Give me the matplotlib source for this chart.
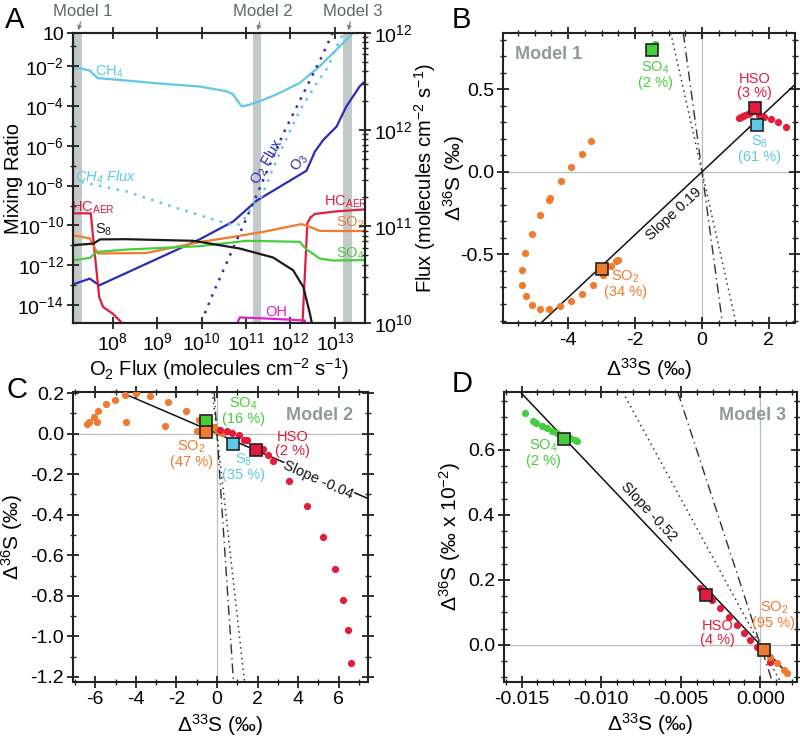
import numpy as np
import matplotlib.pyplot as plt
from matplotlib.ticker import FixedLocator, MultipleLocator, NullLocator, FormatStrFormatter, LogLocator, NullFormatter

plt.rcParams['font.family'] = ['Liberation Sans', 'DejaVu Sans']
plt.rcParams['mathtext.fontset'] = 'custom'
plt.rcParams['mathtext.rm'] = 'Liberation Sans'
plt.rcParams['mathtext.it'] = 'Liberation Sans:italic'
plt.rcParams['mathtext.bf'] = 'Liberation Sans:bold'
plt.rcParams['mathtext.default'] = 'regular'
plt.rcParams['axes.unicode_minus'] = False

# ---- panel A: mixing ratios vs O2 flux (values as log10) ----
ch4_lx = [7.10, 7.30, 7.48, 7.58, 7.66, 8.0, 8.31, 9.0, 9.96, 10.56, 10.70, 10.79, 10.90, 11.05, 11.31, 11.7, 12.21, 12.66, 13.04, 13.41, 13.6]
ch4_ly = [-2.08, -2.12, -2.22, -2.45, -2.60, -2.66, -2.72, -2.86, -3.02, -3.26, -3.40, -3.68, -4.02, -3.95, -3.76, -3.40, -2.84, -2.00, -1.16, -0.33, 0.0]

o3_lx = [7.10, 7.48, 7.69, 9.96, 10.71, 11.24, 12.36, 12.45, 12.55, 12.74, 13.04, 13.26, 13.56, 13.71]
o3_ly = [-12.96, -12.67, -13.01, -10.69, -9.80, -8.75, -7.25, -6.80, -6.29, -5.70, -5.03, -4.02, -3.01, -2.70]

hc_left_lx = [7.10, 7.50, 7.59, 7.69, 7.78, 8.0, 8.25]
hc_left_ly = [-9.39, -9.39, -11.41, -13.6, -14.1, -14.44, -15.0]
hc_right_lx = [12.27, 12.38, 12.45, 12.55, 13.0, 13.68]
hc_right_ly = [-15.0, -9.90, -9.60, -9.42, -9.30, -9.19]

so2_lx = [7.10, 7.48, 7.58, 7.67, 8.76, 9.96, 10.64, 11.39, 12.25, 12.44, 12.66, 13.0, 13.68]
so2_ly = [-10.49, -10.65, -11.1, -11.41, -11.38, -10.83, -10.6, -10.32, -9.93, -10.07, -10.27, -10.28, -10.28]

so4_lx = [7.10, 7.48, 7.63, 8.31, 9.96, 11.01, 12.21, 12.36, 12.66, 12.95, 13.68]
so4_ly = [-11.75, -11.63, -11.33, -11.21, -11.04, -10.77, -10.82, -11.2, -11.66, -11.76, -11.74]

s8_lx = [7.10, 7.56, 7.71, 8.31, 9.81, 10.86, 11.61, 12.06, 12.29, 12.44, 12.49]
s8_ly = [-10.99, -10.91, -10.70, -10.69, -10.77, -11.16, -11.61, -12.25, -13.09, -14.44, -15.0]

oh_lx = [10.78, 10.86, 11.5, 12.32, 12.36]
oh_ly = [-15.0, -14.62, -14.68, -14.77, -15.0]

# fluxes on right axis (log10)
o2flux_lx = [10.07, 10.26, 11.16, 11.84, 12.70, 12.95]
o2flux_lf = [10.10, 10.31, 11.24, 11.96, 12.75, 13.0]
ch4flux_lx = [7.29, 8.31, 9.43, 10.41, 10.64, 10.85, 11.0, 11.15, 11.35, 11.69, 12.21, 12.59, 12.85, 13.11, 13.2]
ch4flux_lf = [11.46, 11.36, 11.19, 11.05, 11.02, 11.02, 11.1, 11.22, 11.31, 11.69, 12.2, 12.48, 12.65, 12.93, 13.0]

model_bands = [(7.10, 7.31), (11.16, 11.33), (13.19, 13.38)]
model_names = ['Model 1', 'Model 2', 'Model 3']

# ---- panel B (Model 1) ----
b_so2_x = [-3.32, -3.60, -3.92, -4.22, -4.54, -4.57, -4.84, -5.09, -5.30, -5.37, -5.37, -5.27, -5.09, -4.84, -4.57, -4.25, -3.92, -3.59, -3.27, -2.97, -2.72, -2.57, -2.50]
b_so2_y = [0.188, 0.107, 0.03, -0.057, -0.158, -0.172, -0.263, -0.374, -0.489, -0.596, -0.687, -0.754, -0.804, -0.828, -0.828, -0.812, -0.782, -0.737, -0.683, -0.626, -0.572, -0.539, -0.531]
b_hso_x = [1.12, 1.18, 1.24, 1.30, 1.36, 1.42, 1.48, 1.53, 1.58, 1.62, 1.70, 1.85, 2.05, 2.27, 2.50]
b_hso_y = [0.325, 0.330, 0.336, 0.342, 0.350, 0.358, 0.368, 0.380, 0.395, 0.405, 0.345, 0.330, 0.320, 0.300, 0.273]
b_so4_x = [-1.40]
b_so4_y = [0.773]
# squares: SO4, SO2, HSO, S8
b_sq_x = [-1.50, -3.00, 1.57, 1.65]
b_sq_y = [0.739, -0.586, 0.385, 0.283]
b_fit_slope = 0.19

# ---- panel C (Model 2) ----
c_so2_x = [-6.42, -6.30, -6.08, -5.92, -5.87, -5.45, -5.03, -4.53, -4.00, -3.28, -2.42, -1.53, -4.50, -2.55, -0.87, -1.00, -0.17, 0.00, 0.17, 0.30]
c_so2_y = [0.045, 0.058, 0.083, 0.058, 0.112, 0.145, 0.167, 0.188, 0.200, 0.183, 0.155, 0.112, 0.055, 0.037, 0.067, 0.013, 0.030, 0.020, 0.010, 0.005]
c_hso_x = [0.17, 0.50, 0.75, 1.08, 1.33, 1.50, 2.25, 2.50, 2.75, 3.53, 4.45, 5.25, 5.83, 6.20, 6.47, 6.63]
c_hso_y = [0.017, 0.013, 0.003, -0.008, -0.030, -0.030, -0.075, -0.108, -0.133, -0.233, -0.358, -0.512, -0.667, -0.820, -0.970, -1.130]
# squares: SO4, SO2, HSO, S8
c_sq_x = [-0.53, -0.55, 1.92, 0.80]
c_sq_y = [0.062, 0.008, -0.083, -0.050]
c_fit_slope = -0.043
c_fit_x = [-4.45, 7.45]

# ---- panel D (Model 3) ----
d_so4_x = [-0.01479, -0.01431, -0.01406, -0.01374, -0.01343, -0.01311, -0.01280, -0.01238, -0.01196, -0.01164, -0.01154]
d_so4_y = [0.713, 0.690, 0.682, 0.674, 0.667, 0.659, 0.651, 0.641, 0.636, 0.631, 0.626]
d_hso_x = [-0.00378, -0.00330, -0.00304, -0.00252, -0.00199, -0.00147, -0.00105, -0.00063, -0.00021, 0.00063]
d_hso_y = [0.174, 0.160, 0.138, 0.113, 0.087, 0.062, 0.036, 0.015, -0.005, -0.054]
d_so2_x = [0.00040, 0.00063, 0.00105, 0.00147, 0.00168]
d_so2_y = [-0.025, -0.036, -0.056, -0.077, -0.087]
# squares: SO4, SO2, HSO
d_sq_x = [-0.01231, 0.00021, -0.00340]
d_sq_y = [0.634, -0.017, 0.154]
d_fit_slope = -51.6
d_fit_x = [-0.0150, 0.0017]

ref_slopes = [-0.9, -1.5]
d_ref_slopes = [-90, -150]

c_ch4 = '#5ec8ea'
c_o2 = '#2c2cb4'
c_hc = '#e31b3c'
c_so2 = '#f07a2e'
c_so4 = '#46cd3c'
c_s8 = '#1a1a1a'
c_oh = '#e020c8'
c_band = '#c3c8c8'
c_model = '#8f9a9a'

fig = plt.figure(figsize=(8, 7.37), dpi=100)


def box(l, r, t, b):
    return [l / 800, 1 - b / 737, (r - l) / 800, (b - t) / 737]


def style(ax):
    for s in ax.spines.values():
        s.set_linewidth(1.5)
        s.set_color('#222222')
    ax.tick_params(which='major', direction='inout', length=9, width=1.3, labelsize=14, pad=2,
                   top=True, right=True, color='#222222')
    ax.tick_params(which='minor', direction='inout', length=5, width=1.0,
                   top=True, right=True, color='#222222')


def p(v):
    return 10.0 ** np.array(v, dtype=float)


# ================= A =================
axA = fig.add_axes(box(73, 365, 33, 323))
axA.set_xscale('log')
axA.set_yscale('log')
axA.set_xlim(10 ** 7.1, 10 ** 13.68)
axA.set_ylim(10 ** -14.9, 10 ** -0.33)
for (lo, hi), name in zip(model_bands, model_names):
    axA.axvspan(10 ** lo, 10 ** hi, color=c_band, lw=0, zorder=0)
    axA.annotate(name, xy=(10 ** ((lo + hi) / 2), 1.0), xycoords=('data', 'axes fraction'),
                 xytext=(4, 10), textcoords='offset points', ha='center', va='bottom',
                 fontsize=12, color='#5f6767',
                 arrowprops=dict(arrowstyle='-|>', color='#7a8282', lw=0.9, mutation_scale=6,
                                 shrinkA=0, shrinkB=-2))

lw = 1.6
axA.plot(p(ch4_lx), p(ch4_ly), color=c_ch4, lw=lw)
axA.plot(p(o3_lx), p(o3_ly), color=c_o2, lw=lw)
axA.plot(p(hc_left_lx), p(hc_left_ly), color=c_hc, lw=lw)
axA.plot(p(hc_right_lx), p(hc_right_ly), color=c_hc, lw=lw)
axA.plot(p(so2_lx), p(so2_ly), color=c_so2, lw=lw)
axA.plot(p(so4_lx), p(so4_ly), color=c_so4, lw=lw)
axA.plot(p(s8_lx), p(s8_ly), color=c_s8, lw=lw)
axA.plot(p(oh_lx), p(oh_ly), color=c_oh, lw=lw)

ylog_major = [-0.33, -2, -4, -6, -8, -10, -12, -14]
ylog_labels = ['10'] + ['10$^{%d}$' % v for v in ylog_major[1:]]
axA.yaxis.set_major_locator(FixedLocator(p(ylog_major)))
axA.set_yticklabels(ylog_labels)
axA.yaxis.set_minor_locator(FixedLocator(p([-1, -3, -5, -7, -9, -11, -13])))
axA.yaxis.set_minor_formatter(NullFormatter())
xlog_major = [8, 9, 10, 11, 12, 13]
axA.xaxis.set_major_locator(FixedLocator(p(xlog_major)))
axA.set_xticklabels(['10$^{%d}$' % v for v in xlog_major])
axA.xaxis.set_minor_locator(NullLocator())
style(axA)
axA.tick_params(right=False, which='both')
axA.set_ylabel('Mixing Ratio', fontsize=14.5)
axA.yaxis.set_label_coords(-0.172, 0.5)
axA.set_xlabel('O$_2$ Flux (molecules cm$^{-2}$ s$^{-1}$)', fontsize=14.5)
axA.xaxis.set_label_coords(0.5, -0.115)

axF = axA.twinx()
axF.set_yscale('log')
axF.set_ylim(1e10, 1e13)
dots = (0, (1, 2.6))
axF.plot(p(o2flux_lx), p(o2flux_lf), color=c_o2, lw=1.8, ls=dots)
axF.plot(p(ch4flux_lx), p(ch4flux_lf), color=c_ch4, lw=1.8, ls=dots)
axF.yaxis.set_major_locator(FixedLocator([1e10, 1e11, 1e12, 1e13]))
axF.set_yticklabels(['10$^{10}$', '10$^{11}$', '10$^{12}$', '10$^{12}$'])
axF.yaxis.set_minor_locator(LogLocator(base=10, subs=np.arange(2, 10)))
axF.yaxis.set_minor_formatter(NullFormatter())
for s in axF.spines.values():
    s.set_linewidth(1.5)
    s.set_color('#222222')
axF.tick_params(which='major', direction='inout', length=9, width=1.3, labelsize=14, pad=2, color='#222222')
axF.tick_params(which='minor', direction='inout', length=5, width=1.0, color='#222222')
axF.set_ylabel('Flux (molecules cm$^{-2}$ s$^{-1}$)', fontsize=14.5)
axF.yaxis.set_label_coords(1.163, 0.5)

ta = dict(transform=axA.transData, ha='center', va='center', fontsize=10.5)
axA.text(10 ** 7.91, 10 ** -2.27, 'CH$_4$', color=c_ch4, **ta)
axA.text(10 ** 7.84, 10 ** -7.56, 'CH$_4$ Flux', color=c_ch4, style='italic', **ta)
axA.text(10 ** 11.47, 10 ** -6.8, 'O$_2$ Flux', color=c_o2, rotation=60, **ta)
axA.text(10 ** 12.21, 10 ** -6.86, 'O$_3$', color=c_o2, rotation=55, **ta)
axA.text(10 ** 7.55, 10 ** -9.13, 'HC$_{AER}$', color=c_hc, **ta)
axA.text(10 ** 7.80, 10 ** -10.24, 'S$_8$', color=c_s8, **ta)
axA.text(10 ** 13.25, 10 ** -8.83, 'HC$_{AER}$', color=c_hc, **ta)
axA.text(10 ** 13.34, 10 ** -9.89, 'SO$_2$', color=c_so2, **ta)
axA.text(10 ** 13.34, 10 ** -11.4, 'SO$_4$', color=c_so4, **ta)
axA.text(10 ** 11.69, 10 ** -14.37, 'OH', color=c_oh, **ta)

sq_colors = [c_so4, c_so2, c_hc, c_ch4]
ms_dot = 5.2
ms_sq = 8.2


def ref_lines(ax, slopes):
    ax.axhline(0, color='#b8bebe', lw=0.9, zorder=0)
    ax.axvline(0, color='#b8bebe', lw=0.9, zorder=0)
    ax.axline((0, 0), slope=slopes[0], color='#333333', lw=1.1, ls=(0, (1, 2.5)), zorder=1)
    ax.axline((0, 0), slope=slopes[1], color='#333333', lw=1.0, ls=(0, (7, 3, 1, 3)), zorder=1)


def label(ax, x, y, s, c, **kw):
    ax.text(x, y, s, color=c, ha='center', va='center', fontsize=10.5, linespacing=1.0, **kw)


def delta_labels(ax, ylab, ylx, xly):
    ax.set_xlabel('Δ$^{33}$S (‰)', fontsize=15)
    ax.xaxis.set_label_coords(0.5, xly)
    ax.set_ylabel(ylab, fontsize=15)
    ax.yaxis.set_label_coords(ylx, 0.5)


# ================= B =================
axB = fig.add_axes(box(503, 795, 33, 323))
axB.set_xlim(-5.95, 2.78)
axB.set_ylim(-0.915, 0.84)
ref_lines(axB, ref_slopes)
axB.axline((0, 0), slope=b_fit_slope, color='#111111', lw=1.1, zorder=2)
axB.plot(b_so2_x, b_so2_y, 'o', color=c_so2, ms=ms_dot, mec='none', zorder=3)
axB.plot(b_hso_x, b_hso_y, 'o', color=c_hc, ms=ms_dot, mec='none', zorder=3)
axB.plot(b_so4_x, b_so4_y, 'o', color=c_so4, ms=ms_dot, mec='none', zorder=3)
for x, y, c in zip(b_sq_x, b_sq_y, sq_colors):
    axB.plot(x, y, 's', color=c, ms=ms_sq, mec='#222222', mew=1.2, zorder=4)
label(axB, -1.40, 0.587, 'SO$_4$\n(2 %)', c_so4)
label(axB, 1.57, 0.522, 'HSO\n(3 %)', c_hc)
label(axB, 1.72, 0.138, 'S$_8$\n(61 %)', c_ch4)
label(axB, -2.30, -0.675, 'SO$_2$\n(34 %)', c_so2)
axB.text(-0.85, -0.253, 'Slope 0.19', rotation=43, ha='center', va='center', fontsize=10.5, color='#111111')
axB.text(-4.58, 0.708, 'Model 1', color=c_model, fontsize=13, fontweight='bold', ha='center', va='center')
axB.xaxis.set_major_locator(MultipleLocator(2))
axB.xaxis.set_minor_locator(MultipleLocator(0.5))
axB.yaxis.set_major_locator(MultipleLocator(0.5))
axB.yaxis.set_minor_locator(MultipleLocator(0.1))
axB.yaxis.set_major_formatter(FormatStrFormatter('%.1f'))
style(axB)
delta_labels(axB, 'Δ$^{36}$S (‰)', -0.123, -0.115)

# ================= C =================
axC = fig.add_axes(box(73, 368, 392, 682))
axC.set_xlim(-7.1, 7.45)
axC.set_ylim(-1.225, 0.205)
ref_lines(axC, ref_slopes)
axC.plot(c_fit_x, [c_fit_slope * v for v in c_fit_x], color='#111111', lw=1.1, zorder=2)
axC.plot(c_so2_x, c_so2_y, 'o', color=c_so2, ms=ms_dot, mec='none', zorder=3)
axC.plot(c_hso_x, c_hso_y, 'o', color=c_hc, ms=ms_dot, mec='none', zorder=3)
for x, y, c in zip(c_sq_x, c_sq_y, sq_colors):
    axC.plot(x, y, 's', color=c, ms=ms_sq, mec='#222222', mew=1.2, zorder=4)
label(axC, 1.30, 0.113, 'SO$_4$\n(16 %)', c_so4)
label(axC, -1.25, -0.100, 'SO$_2$\n(47 %)', c_so2)
label(axC, 1.33, -0.165, 'S$_8$\n(35 %)', c_ch4)
label(axC, 3.72, -0.053, 'HSO\n(2 %)', c_hc)
axC.text(5.0, -0.228, 'Slope -0.04', rotation=-24, ha='center', va='center', fontsize=10.5,
         color='#111111', zorder=5, bbox=dict(fc='white', ec='none', pad=0.3))
axC.text(5.08, 0.087, 'Model 2', color=c_model, fontsize=13, fontweight='bold', ha='center', va='center')
axC.xaxis.set_major_locator(MultipleLocator(2))
axC.xaxis.set_minor_locator(MultipleLocator(1))
axC.yaxis.set_major_locator(MultipleLocator(0.2))
axC.yaxis.set_minor_locator(MultipleLocator(0.1))
axC.yaxis.set_major_formatter(FormatStrFormatter('%.1f'))
style(axC)
delta_labels(axC, 'Δ$^{36}$S (‰)', -0.163, -0.105)

# ================= D =================
axD = fig.add_axes(box(504, 797, 392, 682))
axD.set_xlim(-0.0161, 0.0023)
axD.set_ylim(-0.114, 0.778)
ref_lines(axD, d_ref_slopes)
axD.plot(d_fit_x, [d_fit_slope * v for v in d_fit_x], color='#111111', lw=1.1, zorder=2)
axD.plot(d_so4_x, d_so4_y, 'o', color=c_so4, ms=ms_dot, mec='none', zorder=3)
axD.plot(d_hso_x, d_hso_y, 'o', color=c_hc, ms=ms_dot, mec='none', zorder=3)
axD.plot(d_so2_x, d_so2_y, 'o', color=c_so2, ms=ms_dot, mec='none', zorder=3)
for x, y, c in zip(d_sq_x, d_sq_y, sq_colors):
    axD.plot(x, y, 's', color=c, ms=ms_sq, mec='#222222', mew=1.2, zorder=4)
label(axD, -0.01364, 0.592, 'SO$_4$\n(2 %)', c_so4)
label(axD, -0.00268, 0.038, 'HSO\n(4 %)', c_hc)
label(axD, 0.00084, 0.092, 'SO$_2$\n(95 %)', c_so2)
axD.text(-0.00703, 0.41, 'Slope -0.52', rotation=-47, ha='center', va='center', fontsize=10.5, color='#111111')
axD.text(-0.00052, 0.705, 'Model 3', color=c_model, fontsize=13, fontweight='bold', ha='center', va='center')
axD.xaxis.set_major_locator(MultipleLocator(0.005))
axD.xaxis.set_minor_locator(MultipleLocator(0.001))
axD.xaxis.set_major_formatter(FormatStrFormatter('%.3f'))
axD.yaxis.set_major_locator(MultipleLocator(0.2))
axD.yaxis.set_minor_locator(MultipleLocator(0.05))
axD.yaxis.set_major_formatter(FormatStrFormatter('%.1f'))
style(axD)
delta_labels(axD, 'Δ$^{36}$S (‰ x 10$^{-2}$)', -0.14, -0.1)

for s, x, y in [('A', 5, 6), ('B', 452, 6), ('C', 7, 376), ('D', 452, 370)]:
    fig.text(x / 800, 1 - y / 737, s, fontsize=21, ha='left', va='top')

fig.savefig('out.png', dpi=100)
